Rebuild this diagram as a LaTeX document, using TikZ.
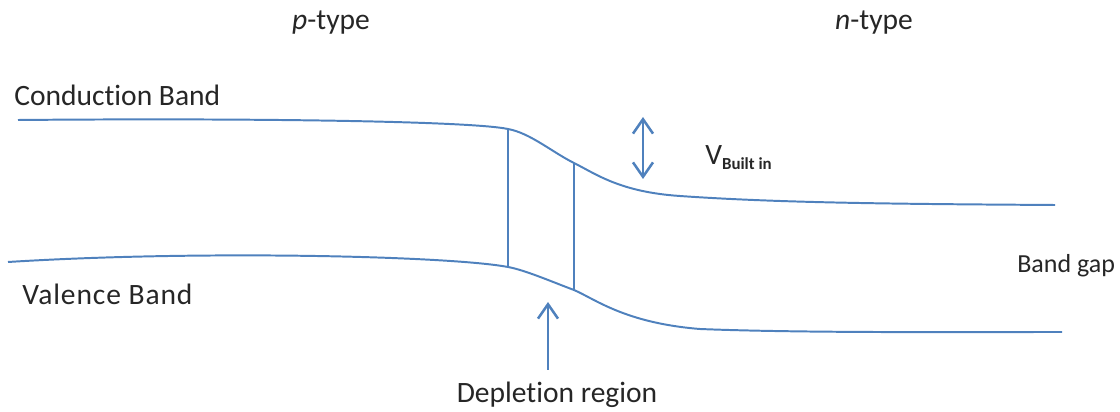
\documentclass[tikz,border=0pt]{standalone}
\usepackage{fontspec}
\setmainfont{Carlito}[Ligatures=NoCommon]
\usetikzlibrary{arrows.meta}
\definecolor{bandblue}{HTML}{4F81BD}

\begin{document}
\begin{tikzpicture}[x=0.025cm,y=-0.025cm,
  font=\fontsize{21}{24}\selectfont,
  band/.style={line width=1.4pt,draw=bandblue},
  edgeline/.style={line width=1.4pt,draw=bandblue},
  barb/.tip={Straight Barb[length=3.6mm,width=5mm,line width=1.8pt]},
  pointer/.style={line width=1.8pt,draw=bandblue,-barb},
  lbl/.style={text=black!85,inner sep=0pt}]
\useasboundingbox (0,0) rectangle (1120,412);
% ---------------- band edges
\coordinate (cb0) at (18,120);
\coordinate (cbl) at (508,129);
\coordinate (cbr) at (574,163);
\coordinate (cb1) at (1055,205);
\coordinate (vb0) at (8,262);
\coordinate (vbl) at (508,267);
\coordinate (vbr) at (574,290);
\coordinate (vb1) at (1062,332);
\draw[band] (cb0) .. controls (250,118) and (470,121) .. (cbl)
  .. controls (530,133) and (552,152) .. (cbr)
  .. controls (596,174) and (620,192) .. (680,196)
  .. controls (780,203) and (900,204) .. (cb1);
\draw[band] (vb0) .. controls (200,250) and (450,256) .. (vbl)
  .. controls (525,270) and (555,283) .. (vbr)
  .. controls (595,299) and (625,323) .. (700,329)
  .. controls (800,333) and (950,332) .. (vb1);
% ---------------- depletion edges
\draw[edgeline] (cbl) -- (vbl);
\draw[edgeline] (cbr) -- (vbr);
% ---------------- labels
\node[lbl,anchor=base] (ptype) at (331,30) {\textit{p}-type};
\node[lbl,anchor=base] (ntype) at (874,30) {\textit{n}-type};
\node[lbl,anchor=base west] (cond) at (14,106) {Conduction Band};
\node[lbl,anchor=base west] (val) at (22,305)
  {\addfontfeature{LetterSpace=3}Valence Band};
\node[lbl,anchor=base west,font=\fontsize{18.5}{22}\selectfont] (gap)
  at (1017,273) {Band gap};
\node[lbl,anchor=base] (depl) at (557,403) {Depletion region};
\node[lbl,anchor=base west] (vbi) at (705,165)
  {V\raisebox{-0.35ex}{\fontsize{12}{14}\selectfont\bfseries Built in}};
% ---------------- arrows
\coordinate (vtop) at (643,117);
\coordinate (vbot) at (643,179);
\draw[pointer,barb-barb] (vtop) -- (vbot);
\coordinate (dtail) at (548,370);
\coordinate (dhead) at (548,302);
\draw[pointer] (dtail) -- (dhead);
\end{tikzpicture}
\end{document}
